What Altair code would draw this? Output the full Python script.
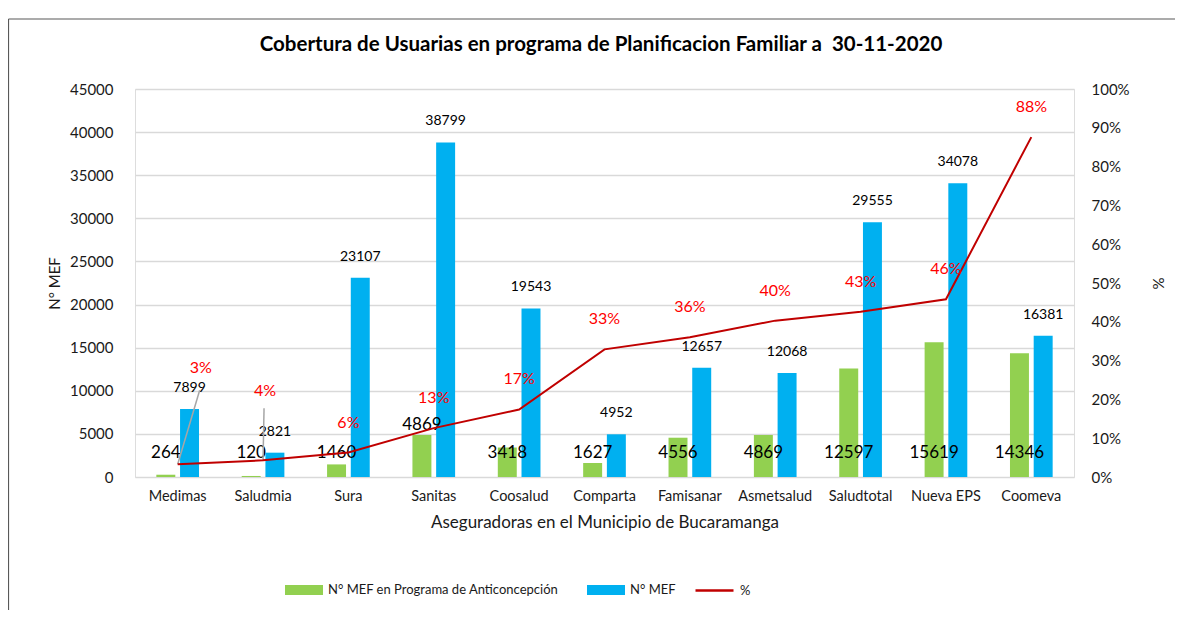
import altair as alt
import pandas as pd

# ---- data ----
aseguradoras = ["Medimas", "Saludmia", "Sura", "Sanitas", "Coosalud", "Comparta",
                "Famisanar", "Asmetsalud", "Saludtotal", "Nueva EPS", "Coomeva"]
mef_anticoncepcion = [264, 120, 1460, 4869, 3418, 1627, 4556, 4869, 12597, 15619, 14346]
mef_total = [7899, 2821, 23107, 38799, 19543, 4952, 12657, 12068, 29555, 34078, 16381]
porcentaje = [0.033, 0.043, 0.063, 0.126, 0.174, 0.329, 0.360, 0.403, 0.426, 0.458, 0.876]
y_ticks = [0, 5000, 10000, 15000, 20000, 25000, 30000, 35000, 40000, 45000]
pct_ticks = [0, 0.1, 0.2, 0.3, 0.4, 0.5, 0.6, 0.7, 0.8, 0.9, 1.0]
titulo = "Cobertura de Usuarias en programa de Planificacion Familiar a \u00a030-11-2020"

S1 = "N° MEF en Programa de Anticoncepción"
S2 = "N° MEF"
S3 = "%"

bars_df = pd.DataFrame({
    "aseg": aseguradoras * 2,
    "serie": [S1] * len(aseguradoras) + [S2] * len(aseguradoras),
    "valor": mef_anticoncepcion + mef_total,
})
green_df = bars_df[bars_df.serie == S1]
blue_df = bars_df[bars_df.serie == S2]
pct_df = pd.DataFrame({"aseg": aseguradoras, "pct": porcentaje, "serie": [S3] * len(aseguradoras)})

FONT = "Lato"
TXT = "#1a1a1a"

x_enc = alt.X(
    "aseg:N", sort=aseguradoras,
    scale=alt.Scale(paddingInner=0.5, paddingOuter=0.25),
    axis=alt.Axis(title="Aseguradoras en el Municipio de Bucaramanga", labelAngle=0,
                  domain=False, ticks=False, labelPadding=12, titlePadding=12,
                  labelFont=FONT, labelFontSize=14.5, labelColor=TXT,
                  titleFont=FONT, titleFontSize=17, titleFontWeight="normal", titleColor=TXT),
)
x_plain = alt.X("aseg:N", sort=aseguradoras)
xoff = alt.XOffset("serie:N", sort=[S1, S2], scale=alt.Scale(domain=[S1, S2], paddingInner=0.2, paddingOuter=0))

left_scale = alt.Scale(domain=[0, 45000], nice=False)
left_axis = alt.Axis(values=y_ticks, format="d", title="N° MEF", grid=True, gridColor="#D9D9D9", gridWidth=1.3,
                     domain=False, ticks=False, labelPadding=22, titlePadding=7, labelOverlap=False,
                     labelFont=FONT, labelFontSize=15, labelColor=TXT,
                     titleFont=FONT, titleFontSize=15, titleFontWeight="normal", titleColor=TXT)
y_left = alt.Y("valor:Q", scale=left_scale, axis=left_axis)

bars = alt.Chart(bars_df).mark_bar().encode(
    x=x_enc, xOffset=xoff, y=y_left,
    color=alt.Color("serie:N", sort=[S1, S2],
                    scale=alt.Scale(domain=[S1, S2], range=["#92D050", "#00B0F0"]),
                    legend=alt.Legend(title=None, orient="none", direction="horizontal",
                                      legendX=150, legendY=482, padding=0, labelLimit=0,
                                      symbolType="M-1,-0.26H1V0.26H-1Z", symbolSize=1444,
                                      symbolStrokeWidth=0, labelOffset=5, columnPadding=28,
                                      labelFont=FONT, labelFontSize=13, labelColor=TXT)),
)

# green labels sit at the bar base (Excel "inside base"); Sanitas' label was lifted above its bar
green_text = alt.Chart(green_df).mark_text(font=FONT, fontSize=17, color="#000000", dy=-24, baseline="middle").encode(
    x=x_plain, xOffset=xoff,
    y=alt.Y(datum=0, scale=left_scale, axis=left_axis),
    text=alt.Text("valor:Q", format="d"),
).transform_filter(alt.datum.aseg != "Sanitas")
green_text_s = alt.Chart(green_df).mark_text(font=FONT, fontSize=17, color="#000000", dy=-52, baseline="middle").encode(
    x=x_plain, xOffset=xoff,
    y=alt.Y(datum=0, scale=left_scale, axis=left_axis),
    text=alt.Text("valor:Q", format="d"),
).transform_filter(alt.datum.aseg == "Sanitas")

blue_text = alt.Chart(blue_df).mark_text(font=FONT, fontSize=14, color="#000000", dy=-21, baseline="middle").encode(
    x=x_plain, xOffset=xoff,
    y=y_left,
    text=alt.Text("valor:Q", format="d"),
)

frame_df = pd.DataFrame({"k": [0]})
frame_left = alt.Chart(frame_df).mark_rule(color="#595959", strokeWidth=1.2).encode(
    x=alt.value(-126.5), y=alt.value(-70), y2=alt.value(540))
frame_top = alt.Chart(frame_df).mark_rule(color="#595959", strokeWidth=1.2).encode(
    x=alt.value(-126.5), x2=alt.value(1200), y=alt.value(-70))
title_mark = alt.Chart(frame_df).mark_text(
    text=titulo, font=FONT, fontSize=20.5, fontWeight="bold", color="#000000",
    align="center", baseline="middle").encode(x=alt.value(466), y=alt.value(-44))

left_layer = alt.layer(bars, green_text, green_text_s, blue_text, frame_left, frame_top, title_mark)

right_scale = alt.Scale(domain=[0, 1], nice=False)
right_axis = alt.Axis(orient="right", format=".0%", values=pct_ticks, title="%", grid=False,
                      domain=False, ticks=False, labelPadding=17, titlePadding=20, labelOverlap=False,
                      labelFont=FONT, labelFontSize=15, labelColor=TXT,
                      titleFont=FONT, titleFontSize=15, titleFontWeight="normal", titleColor=TXT)
y_right = alt.Y("pct:Q", scale=right_scale, axis=right_axis)

line = alt.Chart(pct_df).mark_line(strokeWidth=2).encode(
    x=x_plain,
    y=y_right,
    stroke=alt.Stroke("serie:N", scale=alt.Scale(domain=[S3], range=["#C00000"]),
                      legend=alt.Legend(title=None, orient="none", direction="horizontal",
                                        legendX=559, legendY=481, padding=0,
                                        symbolType="stroke", symbolSize=1444, symbolStrokeWidth=2.5,
                                        labelOffset=5, labelFont=FONT, labelFontSize=13, labelColor=TXT)),
)

# Excel labels: the first two were dragged up by hand in the original, with leader lines
moved = ["Medimas", "Saludmia"]
pct_text = alt.Chart(pct_df).mark_text(font=FONT, fontSize=16, color="#FF0000", dy=-30, baseline="middle").encode(
    x=x_plain, y=y_right,
    text=alt.Text("pct:Q", format=".0%"),
).transform_filter(~alt.FieldOneOfPredicate(field="aseg", oneOf=moved))

pct_text_m1 = alt.Chart(pct_df).mark_text(font=FONT, fontSize=16, color="#FF0000", dx=23, dy=-96, baseline="middle").encode(
    x=x_plain, y=y_right,
    text=alt.Text("pct:Q", format=".0%"),
).transform_filter(alt.datum.aseg == "Medimas")
pct_text_m2 = alt.Chart(pct_df).mark_text(font=FONT, fontSize=16, color="#FF0000", dx=2, dy=-69, baseline="middle").encode(
    x=x_plain, y=y_right,
    text=alt.Text("pct:Q", format=".0%"),
).transform_filter(alt.datum.aseg == "Saludmia")

leader_1 = alt.Chart(pct_df).mark_rule(color="#A6A6A6", strokeWidth=1.5, x2Offset=22, y2Offset=-74).encode(
    x=x_plain, y=y_right, x2="aseg:N", y2="pct:Q",
).transform_filter(alt.datum.aseg == "Medimas")
leader_2 = alt.Chart(pct_df).mark_rule(color="#A6A6A6", strokeWidth=1.5, x2Offset=1, y2Offset=-52).encode(
    x=x_plain, y=y_right, x2="aseg:N", y2="pct:Q",
).transform_filter(alt.datum.aseg == "Saludmia")

right_layer = alt.layer(leader_1, leader_2, line, pct_text, pct_text_m1, pct_text_m2)

chart = alt.layer(left_layer, right_layer).resolve_scale(
    y="independent", color="independent", stroke="independent"
).properties(
    width=939, height=388,
    padding={"left": 127, "top": 81, "right": 101, "bottom": 133},
    autosize=alt.AutoSizeParams(type="none"),
).configure_view(stroke=None).configure(background="white")

chart.save("out.html", embed_options={"renderer": "svg", "actions": False})
